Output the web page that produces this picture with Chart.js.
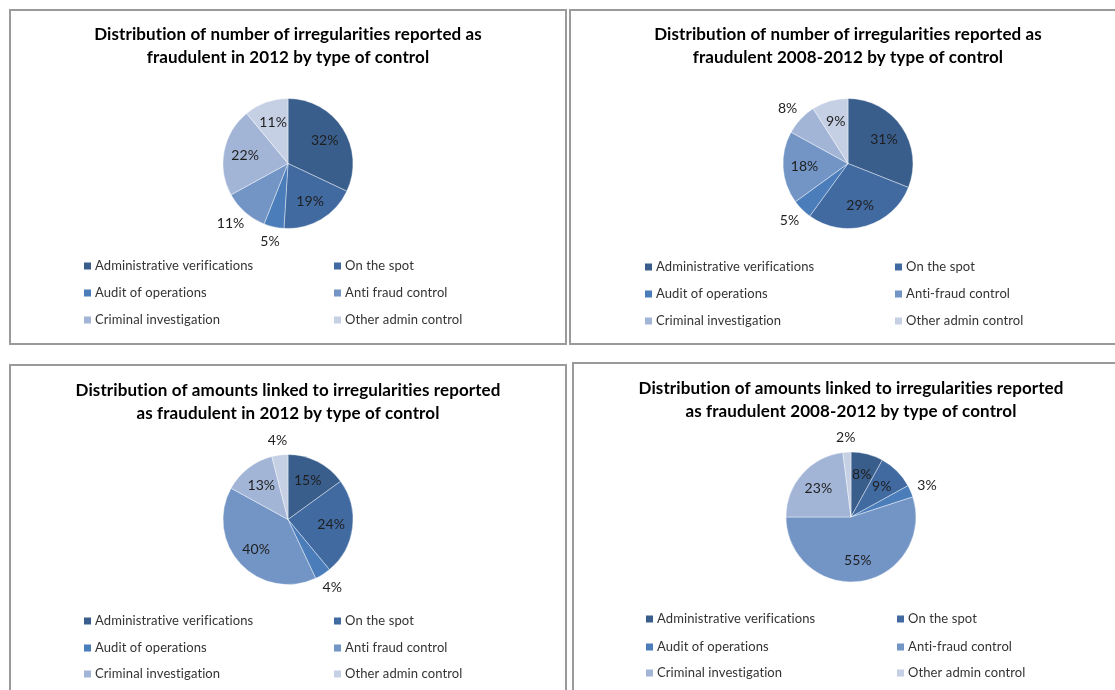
<!DOCTYPE html>
<html>
<head>
<meta charset="utf-8">
<title>Irregularities reported as fraudulent by type of control</title>
<script src="https://cdn.jsdelivr.net/npm/chart.js@4.4.0/dist/chart.umd.min.js"></script>
<style>
  html, body { margin:0; padding:0; background:#fff; overflow:hidden; }
  body { width:1115px; height:690px; position:relative; }
  .panel { position:absolute; box-sizing:border-box; border:2px solid #9a9a9a; background:#fff; }
  .panel canvas { position:absolute; left:0; top:0; }
</style>
</head>
<body>
<div class="panel" style="left:9px;top:9px;width:558px;height:336px"><canvas id="c1" width="554" height="332"></canvas></div>
<div class="panel" style="left:569px;top:9px;width:558px;height:336px"><canvas id="c2" width="554" height="332"></canvas></div>
<div class="panel" style="left:9px;top:364px;width:558px;height:340px"><canvas id="c3" width="554" height="332"></canvas></div>
<div class="panel" style="left:572px;top:362px;width:558px;height:340px"><canvas id="c4" width="554" height="332"></canvas></div>

<script>
// categories (two spellings, as in the source charts)
const labelsSpace = ["Administrative verifications","On the spot","Audit of operations","Anti fraud control","Criminal investigation","Other admin control"];
const labelsHyphen = ["Administrative verifications","On the spot","Audit of operations","Anti-fraud control","Criminal investigation","Other admin control"];

// shares in %
const numberShare2012 = [32, 19, 5, 11, 22, 11];
const numberShare2008to2012 = [31, 29, 5, 18, 8, 9];
const amountShare2012 = [15, 24, 4, 40, 13, 4];
const amountShare2008to2012 = [8, 9, 3, 55, 23, 2];

const titleNumber2012 = ["Distribution of number of irregularities reported as", "fraudulent in 2012 by type of control"];
const titleNumber0812 = ["Distribution of number of irregularities reported as", "fraudulent 2008-2012 by type of control"];
const titleAmount2012 = ["Distribution of amounts linked to irregularities reported", "as fraudulent in 2012 by type of control"];
const titleAmount0812 = ["Distribution of amounts linked to irregularities reported", "as fraudulent 2008-2012 by type of control"];

const sliceColors = ["#3a5e8c", "#416aa1", "#4a7dba", "#7395c6", "#a3b5d6", "#c6d0e4"];

const FONT = "Lato, 'Open Sans', 'DejaVu Sans', sans-serif";
const R = 65;

// tiny letter spacing keeps Lato from using its "ti" ligature
const noLigatures = {
  id: "noLigatures",
  beforeDraw(chart) { if ("letterSpacing" in chart.ctx) chart.ctx.letterSpacing = "0.1px"; }
};

// percentage labels, inside or just outside each slice
const pctLabels = {
  id: "pctLabels",
  afterDatasetsDraw(chart, args, opts) {
    const ctx = chart.ctx;
    const ds = chart.data.datasets[0];
    const meta = chart.getDatasetMeta(0);
    ctx.save();
    ctx.font = "14px " + FONT;
    ctx.fillStyle = "#1e1e1e";
    ctx.textAlign = "center";
    ctx.textBaseline = "middle";
    meta.data.forEach((arc, i) => {
      const p = arc.getProps(["x","y","startAngle","endAngle","outerRadius"], true);
      const a = (p.startAngle + p.endAngle) / 2;
      const dx = Math.cos(a), dy = Math.sin(a);
      const txt = ds.data[i] + "%";
      let x, y;
      if (opts.place[i] === "out") {
        const hw = ctx.measureText(txt).width / 2;
        const d = p.outerRadius + 8;
        x = p.x + dx * d + dx * hw;
        y = p.y + dy * d + dy * 7;
      } else {
        const d = p.outerRadius * 0.67;
        x = p.x + dx * d;
        y = p.y + dy * d;
      }
      ctx.fillText(txt, x, y);
    });
    ctx.restore();
  }
};

// two column legend under the pie
const gridLegend = {
  id: "gridLegend",
  afterDraw(chart, args, opts) {
    const ctx = chart.ctx;
    let items = chart.legend && chart.legend.legendItems;
    if (!items || !items.length) {
      items = chart.data.labels.map((t, i) => ({ text: t, fillStyle: chart.data.datasets[0].backgroundColor[i] }));
    }
    ctx.save();
    ctx.font = "13px " + FONT;
    ctx.textBaseline = "middle";
    ctx.textAlign = "left";
    items.forEach((it, i) => {
      const x = opts.cols[i % 2], y = opts.rows[Math.floor(i / 2)];
      ctx.fillStyle = it.fillStyle;
      ctx.fillRect(x, y - 3.5, 7, 7);
      ctx.fillStyle = "#333";
      ctx.fillText(it.text, x + 11, y);
    });
    ctx.restore();
  }
};

function drawPanel(id, title, labels, values, place, titleTop, pieCy, legendCols, legendRows) {
  const canvas = document.getElementById(id);
  const H = canvas.height;
  const areaTop = pieCy - R - 0.5;
  return new Chart(canvas, {
    type: "pie",
    data: {
      labels,
      datasets: [{ data: values, backgroundColor: sliceColors, borderColor: "rgba(255,255,255,0.4)", borderWidth: 1 }]
    },
    plugins: [noLigatures, pctLabels, gridLegend],
    options: {
      responsive: false,
      devicePixelRatio: 1,
      animation: false,
      events: [],
      layout: { padding: { top: 0, left: 0, right: 0, bottom: H - (pieCy + R + 0.5) } },
      plugins: {
        legend: { display: false },
        tooltip: { enabled: false },
        title: {
          display: true,
          text: title,
          color: "#000",
          font: { family: FONT, size: 17, weight: "bold", lineHeight: 23 / 17 },
          padding: { top: titleTop, bottom: areaTop - titleTop - 46 }
        },
        pctLabels: { place },
        gridLegend: { cols: legendCols, rows: legendRows }
      }
    }
  });
}

drawPanel("c1", titleNumber2012, labelsSpace, numberShare2012,
  ["in","in","out","out","in","in"], 12.5, 152.5, [73, 323], [255, 282, 309]);
drawPanel("c2", titleNumber0812, labelsHyphen, numberShare2008to2012,
  ["in","in","out","in","out","in"], 12.5, 152.5, [74, 324], [256, 283, 310]);
drawPanel("c3", titleAmount2012, labelsSpace, amountShare2012,
  ["in","in","out","in","in","out"], 13.5, 153.5, [73, 323], [255, 282, 308]);
drawPanel("c4", titleAmount0812, labelsHyphen, amountShare2008to2012,
  ["in","in","out","in","in","out"], 13.5, 153, [72, 323], [255, 283, 309]);
</script>
</body>
</html>
